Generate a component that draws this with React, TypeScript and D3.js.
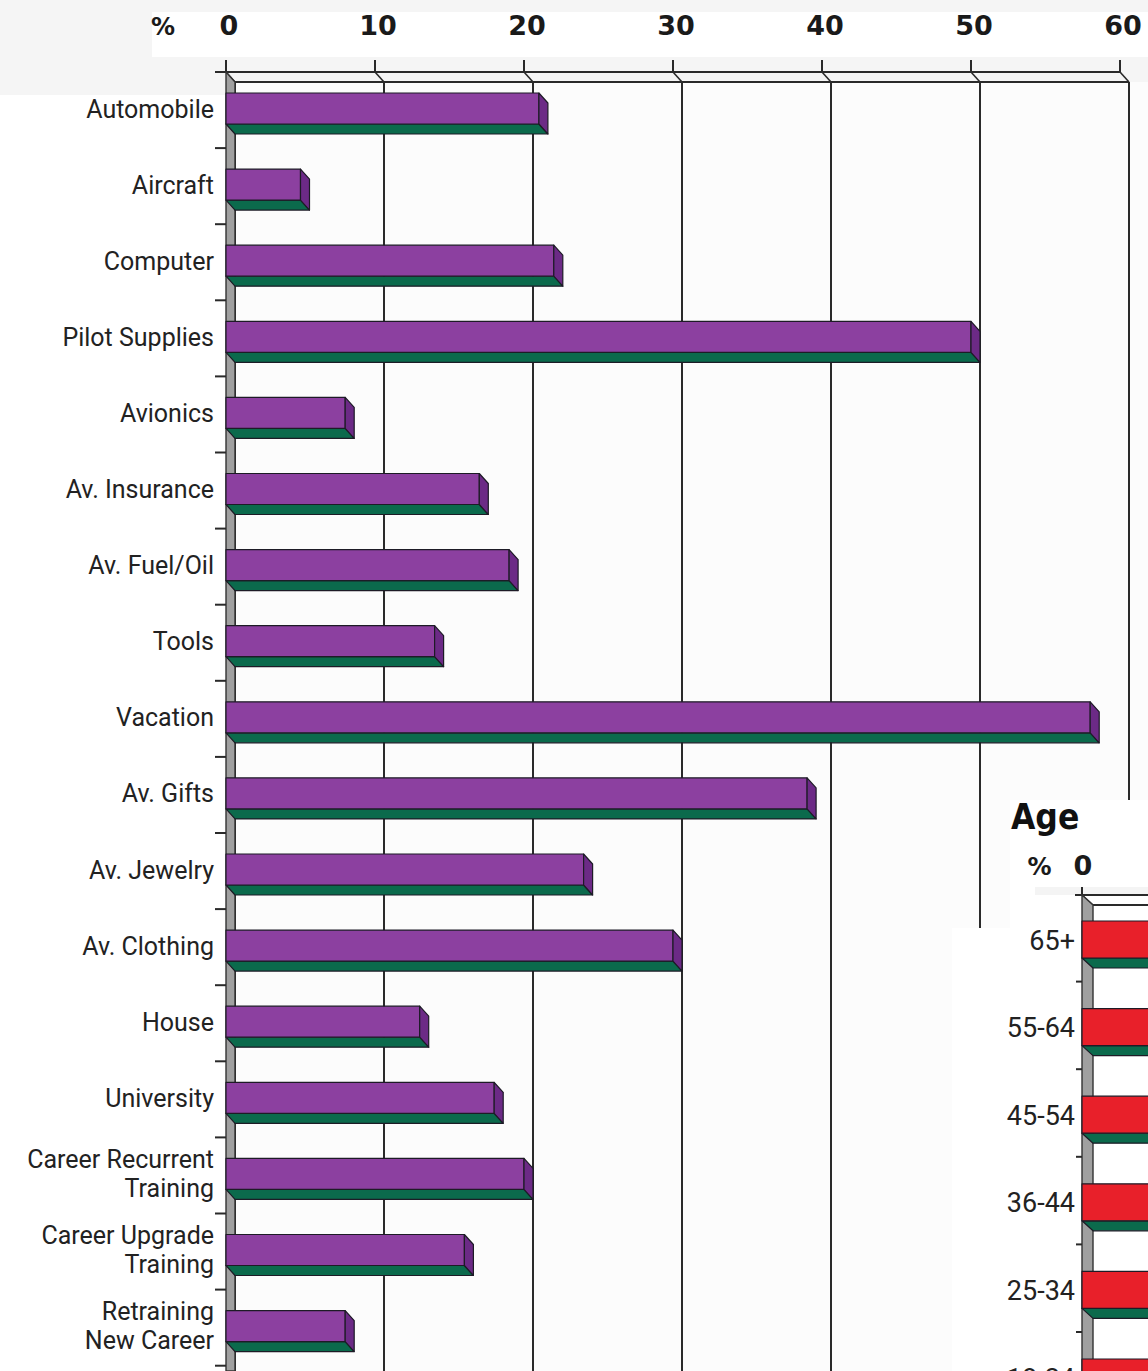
import React from "react";
import * as d3 from "d3";

const categories = [
  "Automobile", "Aircraft", "Computer", "Pilot Supplies", "Avionics",
  "Av. Insurance", "Av. Fuel/Oil", "Tools", "Vacation", "Av. Gifts",
  "Av. Jewelry", "Av. Clothing", "House", "University",
  "Career Recurrent\nTraining", "Career Upgrade\nTraining", "Retraining\nNew Career",
];
const values = [21, 5, 22, 50, 8, 17, 19, 14, 58, 39, 24, 30, 13, 18, 20, 16, 8];
const tickValues = [0, 10, 20, 30, 40, 50, 60];

const ageCategories = ["65+", "55-64", "45-54", "36-44", "25-34", "18-24"];
const ageValues = [9, 20, 27, 26, 17, 7];
const ageTicks = [0];

const W = 1148;
const H = 1371;
const PURPLE = "#8c40a0";
const PURPLE_SIDE = "#6c2a86";
const GREEN = "#0b6a4c";
const RED = "#e8202a";
const RED_SIDE = "#b5161d";
const EDGE = "#1d1b26";
const LABEL_FONT = "Roboto, 'Liberation Sans', sans-serif";
const NUM_FONT = "'DejaVu Sans', sans-serif";

function Bar3D({ x0, x1, top, h, dx, dy, front, side }: any) {
  const b = top + h;
  return (
    <g strokeLinejoin="round">
      <polygon points={`${x0},${b} ${x1},${b} ${x1 + dx},${b + dy} ${x0 + dx},${b + dy}`} fill={GREEN} stroke={EDGE} strokeWidth={1.2} />
      <rect x={x0} y={top} width={x1 - x0} height={h} fill={front} stroke={EDGE} strokeWidth={1.2} />
      <polygon points={`${x1},${top} ${x1 + dx},${top + dy} ${x1 + dx},${b + dy} ${x1},${b}`} fill={side} stroke={EDGE} strokeWidth={1.2} />
    </g>
  );
}

export default function App() {
  // main chart
  const DX = 9, DY = 10;
  const x = d3.scaleLinear().domain([0, 60]).range([226, 1120]);
  const step = 76.1;
  const y = d3.scaleBand<string>().domain(categories).range([72, 72 + categories.length * step]);
  const faceH = 31;
  const faceOff = 21;

  // inset chart
  const IDX = 11, IDY = 10;
  const ax = d3.scaleLinear().domain([0, 60]).range([1082, 1082 + 894]);
  const aStep = 87.6;
  const ay = d3.scaleBand<string>().domain(ageCategories).range([894, 894 + ageCategories.length * aStep]);
  const aFaceH = 37;
  const aFaceOff = 27;

  return (
    <svg width={W} height={H} viewBox={`0 0 ${W} ${H}`} style={{ position: "absolute", left: 0, top: 0, display: "block", background: "#ffffff" }}>
      {/* backgrounds */}
      <rect x={0} y={0} width={W} height={H} fill="#ffffff" />
      <rect x={0} y={0} width={W} height={82} fill="#f5f5f5" />
      <rect x={0} y={82} width={226} height={13} fill="#f5f5f5" />
      <rect x={235} y={82} width={W - 235} height={H - 82} fill="#fcfcfc" />
      <rect x={152} y={12} width={W - 152} height={45} fill="#ffffff" />

      {/* top axis labels */}
      <text x={163} y={35} fontFamily={NUM_FONT} fontWeight="bold" fontSize={24} textAnchor="middle" fill="#1a1a1a">%</text>
      {tickValues.map((t) => (
        <text key={"tl" + t} x={x(t) + 3} y={35} fontFamily={NUM_FONT} fontWeight="bold" fontSize={27} textAnchor="middle" fill="#1a1a1a">{t}</text>
      ))}

      {/* back-wall gridlines */}
      {tickValues.map((t) => (
        <line key={"g" + t} x1={x(t) + DX} x2={x(t) + DX} y1={82} y2={H} stroke="#2a2a2a" strokeWidth={2} />
      ))}
      {/* top axis (front + back edges) */}
      <line x1={215} x2={x(60)} y1={72} y2={72} stroke="#2a2a2a" strokeWidth={2} />
      <line x1={x(0) + DX} x2={x(60) + DX} y1={82} y2={82} stroke="#2a2a2a" strokeWidth={2} />
      {tickValues.map((t) => (
        <g key={"tk" + t}>
          <line x1={x(t)} x2={x(t)} y1={60} y2={72} stroke="#2a2a2a" strokeWidth={2} />
          <line x1={x(t)} x2={x(t) + DX} y1={72} y2={82} stroke="#2a2a2a" strokeWidth={1.6} />
        </g>
      ))}

      {/* left wall */}
      <polygon points={`${x(0)},72 ${x(0) + DX},82 ${x(0) + DX},${H} ${x(0)},${H}`} fill="#a0a0a0" stroke="#333" strokeWidth={1.4} />
      {d3.range(1, categories.length + 1).map((k) => (
        <line key={"ct" + k} x1={215} x2={x(0)} y1={72 + k * step} y2={72 + k * step} stroke="#2a2a2a" strokeWidth={2} />
      ))}

      {/* bars */}
      {categories.map((c, i) => (
        <Bar3D key={c} x0={x(0)} x1={x(values[i])} top={(y(c) as number) + faceOff} h={faceH} dx={DX} dy={DY} front={PURPLE} side={PURPLE_SIDE} />
      ))}

      {/* category labels */}
      {categories.map((c) => {
        const cy = (y(c) as number) + faceOff + faceH / 2;
        const lines = c.split("\n");
        if (lines.length === 1) {
          return (
            <text key={"l" + c} x={214} y={cy + 9} fontFamily={LABEL_FONT} fontSize={25} textAnchor="end" fill="#222">{c}</text>
          );
        }
        return (
          <text key={"l" + c} x={214} fontFamily={LABEL_FONT} fontSize={25} textAnchor="end" fill="#222">
            <tspan x={214} y={cy - 6}>{lines[0]}</tspan>
            <tspan x={214} y={cy + 23}>{lines[1]}</tspan>
          </text>
        );
      })}

      {/* ===== Inset: Age ===== */}
      <rect x={1010} y={800} width={W - 1010} height={H - 800} fill="#ffffff" />
      <rect x={952} y={928} width={W - 952} height={H - 928} fill="#ffffff" />
      <rect x={1035} y={887} width={W - 1035} height={8} fill="#f4f4f4" />
      <text x={1011} y={829} fontFamily="'DejaVu Sans Condensed', 'DejaVu Sans', sans-serif" fontStretch="condensed" fontWeight="bold" fontSize={35} fill="#111">Age</text>
      <text x={1039.5} y={875} fontFamily={NUM_FONT} fontWeight="bold" fontSize={24} textAnchor="middle" fill="#1a1a1a">%</text>
      {ageTicks.map((t) => (
        <text key={"at" + t} x={ax(t) + 1} y={875} fontFamily={NUM_FONT} fontWeight="bold" fontSize={27} textAnchor="middle" fill="#1a1a1a">{t}</text>
      ))}

      <line x1={1075} x2={W} y1={895} y2={895} stroke="#2a2a2a" strokeWidth={2} />
      <line x1={ax(0) + IDX} x2={W} y1={905} y2={905} stroke="#2a2a2a" strokeWidth={2} />
      {ageTicks.map((t) => (
        <g key={"atk" + t}>
          <line x1={ax(t)} x2={ax(t)} y1={887} y2={895} stroke="#2a2a2a" strokeWidth={2} />
          <line x1={ax(t)} x2={ax(t) + IDX} y1={895} y2={905} stroke="#2a2a2a" strokeWidth={1.6} />
        </g>
      ))}
      <polygon points={`${ax(0)},895 ${ax(0) + IDX},905 ${ax(0) + IDX},${H} ${ax(0)},${H}`} fill="#a0a0a0" stroke="#333" strokeWidth={1.4} />
      {d3.range(1, ageCategories.length + 1).map((k) => (
        <line key={"act" + k} x1={1076} x2={ax(0)} y1={894 + k * aStep} y2={894 + k * aStep} stroke="#2a2a2a" strokeWidth={2} />
      ))}
      {ageCategories.map((c, i) => (
        <Bar3D key={"a" + c} x0={ax(0)} x1={ax(ageValues[i])} top={(ay(c) as number) + aFaceOff} h={aFaceH} dx={IDX} dy={IDY} front={RED} side={RED_SIDE} />
      ))}
      {ageCategories.map((c) => (
        <text key={"al" + c} x={1075} y={(ay(c) as number) + aFaceOff + aFaceH / 2 + 10} fontFamily={LABEL_FONT} fontSize={27} textAnchor="end" fill="#222">{c}</text>
      ))}
    </svg>
  );
}
